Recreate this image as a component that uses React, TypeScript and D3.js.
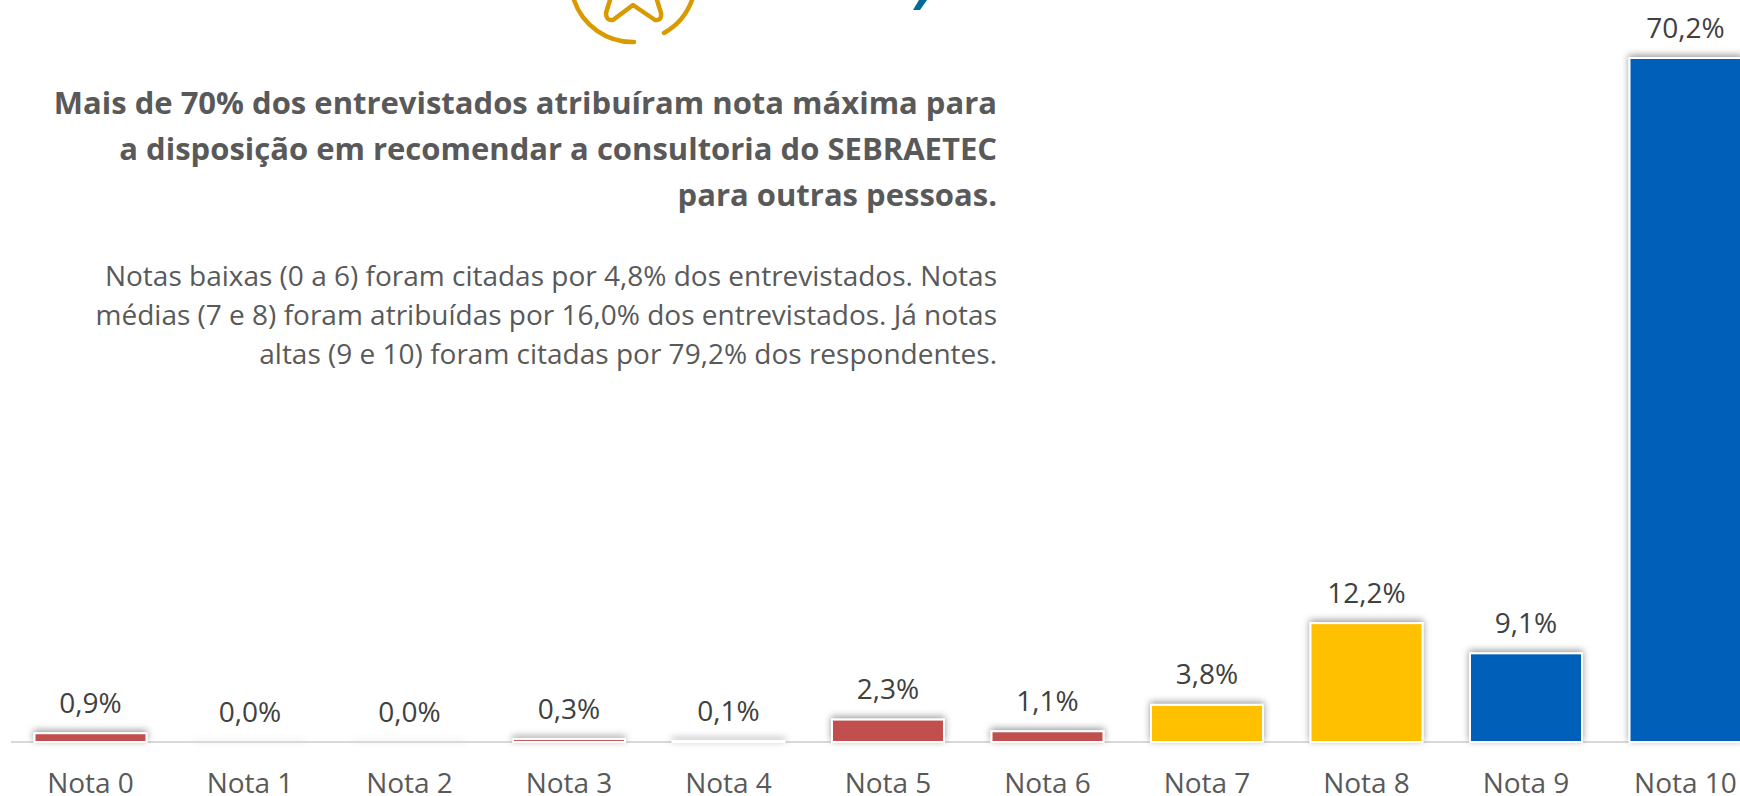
import React from "react";
import * as d3 from "d3";

const categories = ["Nota 0","Nota 1","Nota 2","Nota 3","Nota 4","Nota 5","Nota 6","Nota 7","Nota 8","Nota 9","Nota 10"];
const values = [0.9,0,0,0.3,0.1,2.3,1.1,3.8,12.2,9.1,70.2];
const valueLabels = ["0,9%","0,0%","0,0%","0,3%","0,1%","2,3%","1,1%","3,8%","12,2%","9,1%","70,2%"];
const groups = ["low","low","low","low","low","low","low","mid","mid","high","high"];
const groupColors: Record<string,string> = { low: "#c0504d", mid: "#ffc000", high: "#005eb8" };
const titleLines = [
  "Mais de 70% dos entrevistados atribuíram nota máxima para",
  "a disposição em recomendar a consultoria do SEBRAETEC",
  "para outras pessoas.",
];
const bodyLines = [
  "Notas baixas (0 a 6) foram citadas por 4,8% dos entrevistados. Notas",
  "médias (7 e 8) foram atribuídas por 16,0% dos entrevistados. Já notas",
  "altas (9 e 10) foram citadas por 79,2% dos respondentes.",
];

const FONT = "'Open Sans', sans-serif";

export default function App() {
  const x = d3.scaleBand<string>().domain(categories).range([10.75, 1765.25]).paddingInner(0.298).paddingOuter(0.149);
  const y = d3.scaleLinear().domain([0, 70.2]).range([742, 58]);
  return (
    <svg width={1740} height={796} style={{ position: "fixed", left: 0, top: 0, background: "#fff" }}>
      <defs>
        <filter id="shz" x="-10" y="-10" width="1800" height="820" filterUnits="userSpaceOnUse">
          <feDropShadow dx="0" dy="-2" stdDeviation="3.5" floodColor="#000" floodOpacity="0.4" />
        </filter>
        <filter id="shf" x="-10" y="-10" width="1800" height="820" filterUnits="userSpaceOnUse">
          <feDropShadow dx="0" dy="-1" stdDeviation="3" floodColor="#000" floodOpacity="0.12" />
        </filter>
      </defs>

      {/* logo fragment */}
      <g fill="none" stroke="#d99a00" strokeWidth={4.5} strokeLinecap="round" strokeLinejoin="round">
        <path d="M574 0 A62 62 0 0 0 634 42" />
        <path d="M664 33 A62 62 0 0 0 692 0" />
        <path d="M610 0 L606 13 Q606 21 613 20 L633 5 L655 20 Q662 21 661 13 L657 0" />
      </g>
      <path d="M919 0 L927 0 L920 10 L913 10 Z" fill="#006b96" />

      {/* title */}
      <g textAnchor="end" fill="#595959" fontFamily={FONT}>
        {titleLines.map((t, i) => (
          <text key={i} x={997} y={114 + i * 46} fontSize={31} fontWeight={700}>{t}</text>
        ))}
        {bodyLines.map((t, i) => (
          <text key={i} x={997} y={285.5 + i * 39} fontSize={28}>{t}</text>
        ))}
      </g>

      {/* shadows for bars at zero */}
      {categories.map((c, i) => values[i] === 0 ? (
        <line key={c} x1={x(c)} x2={x(c)! + x.bandwidth()} y1={y(0)} y2={y(0)} stroke="#fff" strokeWidth={2} filter="url(#shf)" />
      ) : null)}

      {/* axis */}
      <line x1={11} x2={1740} y1={742} y2={742} stroke="#d9d9d9" strokeWidth={2} />

      {/* bars */}
      {categories.map((c, i) => {
        const h = y(0) - y(values[i]);
        return h > 0 ? (
          <rect key={c} x={x(c)} y={y(values[i])} width={x.bandwidth()} height={h}
            fill={groupColors[groups[i]]} stroke="#fff" strokeWidth={2} filter="url(#shz)" />
        ) : null;
      })}

      {/* value labels */}
      {categories.map((c, i) => (
        <text key={c} x={x(c)! + x.bandwidth() / 2} y={y(values[i]) - 20.5} textAnchor="middle"
          fontFamily={FONT} fontSize={28} fill="#404040">{valueLabels[i]}</text>
      ))}

      {/* category labels */}
      {categories.map((c) => (
        <text key={c} x={x(c)! + x.bandwidth() / 2} y={793} textAnchor="middle"
          fontFamily={FONT} fontSize={28} fill="#595959">{c}</text>
      ))}
    </svg>
  );
}
